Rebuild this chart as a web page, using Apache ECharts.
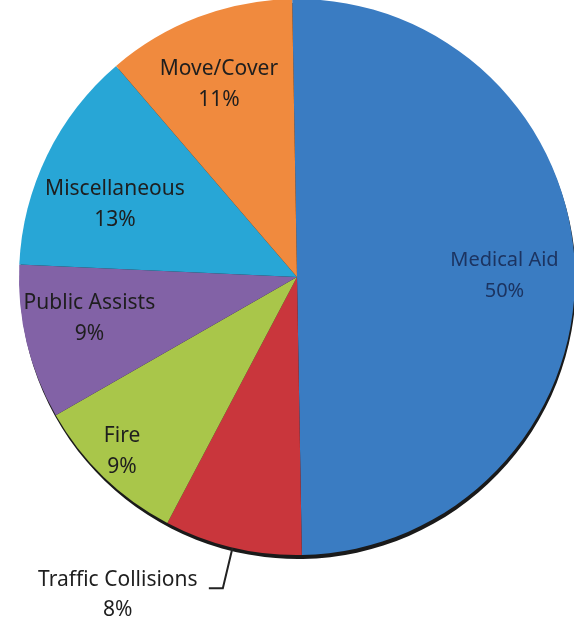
<!DOCTYPE html>
<html>
<head>
<meta charset="utf-8">
<script src="https://cdn.jsdelivr.net/npm/echarts@6/dist/echarts.min.js"></script>
<style>
    html, body { margin: 0; padding: 0; background: #fff; }
    #pieChart { width: 574px; height: 628px; }
</style>
</head>
<body>
<div id="pieChart"></div>
<script>
    // 类别与占比（顺时针，从正上方开始）
    var categories = ['Medical Aid', 'Traffic Collisions', 'Fire', 'Public Assists', 'Miscellaneous', 'Move/Cover'];
    var percents = [50, 8, 9, 9, 13, 11];
    var colors = ['#3a7cc2', '#c9363c', '#a9c64a', '#8262a6', '#28a6d6', '#f08a3e'];

    var R = 278;
    var CX = 297, CY = 277;

    // 内部标签的微调
    var labelOffsets = {
        'Medical Aid': [-4, 2],
        'Fire': [-28, 22],
        'Public Assists': [-2, -8],
        'Miscellaneous': [8, 20],
        'Move/Cover': [-3, 5]
    };

    var pieData = [];
    var labelData = [];
    for (var i = 0; i < categories.length; i++) {
        var outside = categories[i] === 'Traffic Collisions';
        pieData.push({
            name: categories[i],
            value: percents[i],
            itemStyle: {color: colors[i]},
            label: {show: outside}
        });
        var lbl = {show: !outside};
        if (categories[i] === 'Medical Aid') {
            lbl.color = '#1c3461';
            lbl.fontSize = 20;
        }
        if (labelOffsets[categories[i]]) lbl.offset = labelOffsets[categories[i]];
        labelData.push({name: categories[i], value: percents[i], label: lbl});
    }

    var chart = echarts.init(document.getElementById('pieChart'));
    chart.setOption({
        animation: false,
        series: [
            {
                // 底部阴影
                type: 'pie',
                silent: true,
                z: 1,
                radius: R,
                center: [CX + 1, CY + 4],
                startAngle: 91,
                label: {show: false},
                labelLine: {show: false},
                itemStyle: {color: '#1a1a1a', borderWidth: 0},
                data: [{name: 'shadow', value: 1}]
            },
            {
                type: 'pie',
                z: 2,
                radius: R,
                center: [CX, CY],
                startAngle: 91,
                silent: true,
                itemStyle: {borderWidth: 0},
                label: {
                    position: 'outside',
                    formatter: '{a|{b}}\n{a|{c}%}',
                    padding: [14, 0, 0, 0],
                    rich: {
                        a: {
                            fontFamily: 'Noto Sans',
                            fontSize: 21,
                            color: '#1e1e1e',
                            lineHeight: 30,
                            width: 172,
                            align: 'center'
                        }
                    }
                },
                labelLine: {
                    show: true,
                    length: 42,
                    length2: 14,
                    smooth: false,
                    lineStyle: {color: '#222', width: 2}
                },
                data: pieData
            },
            {
                // 标签层（透明，仅用于放置内部标签）
                type: 'pie',
                z: 3,
                silent: true,
                radius: [R * 0.5, R],
                center: [CX, CY],
                startAngle: 91,
                itemStyle: {color: 'transparent', borderWidth: 0},
                label: {
                    position: 'inside',
                    formatter: '{b}\n{c}%',
                    fontFamily: 'Noto Sans',
                    fontSize: 21,
                    lineHeight: 31,
                    color: '#1e1e1e'
                },
                labelLine: {show: false},
                data: labelData
            }
        ]
    });
</script>
</body>
</html>
